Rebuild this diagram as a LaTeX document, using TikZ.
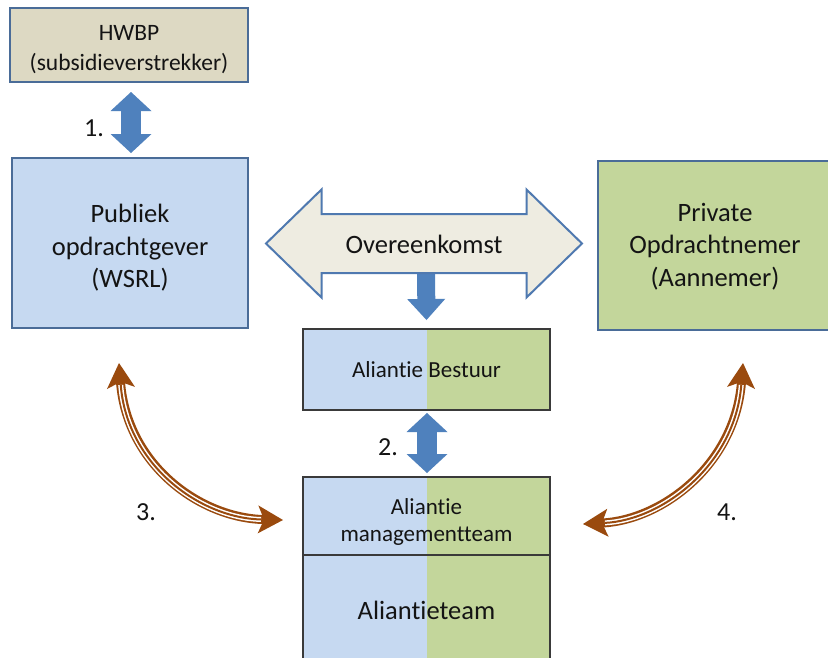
\documentclass[tikz,border=0pt]{standalone}
\usepackage{fontspec}
\setmainfont{Carlito}[Ligatures={NoCommon,NoContextual}]
\usetikzlibrary{arrows.meta}
\definecolor{boxblue}{HTML}{C6D9F1}
\definecolor{boxgreen}{HTML}{C3D69B}
\definecolor{boxtan}{HTML}{DDD9C3}
\definecolor{agree}{HTML}{EEECE1}
\definecolor{edgeblue}{HTML}{4A6C98}
\definecolor{agreeedge}{HTML}{4F79B0}
\definecolor{arrowblue}{HTML}{4F81BD}
\definecolor{brownarrow}{HTML}{9A4A0E}
\definecolor{txt}{HTML}{141414}
\definecolor{splitedge}{HTML}{3A3A3A}
\tikzset{
  plainbox/.style={draw=edgeblue, line width=2pt, inner sep=0pt, outer sep=0pt},
  boxtext/.style={align=center, text=txt, font=\fontsize{26.5}{32.5}\selectfont, inner sep=0pt},
  splitbox/.style={draw=splitedge, line width=1.5pt, fill=boxblue, minimum width=247pt,
    path picture={\fill[boxgreen] (path picture bounding box.north) rectangle (path picture bounding box.south east);},
    align=center, text=txt, inner sep=0pt, outer sep=0pt},
  numlabel/.style={text=txt, font=\fontsize{26}{30}\selectfont, inner sep=0pt},
  bluearrow/.style={draw=arrowblue, line width=20pt, <->,
    >={Triangle[length=19pt,width=41pt,line width=0pt]}},
  downarrow/.style={draw=arrowblue, line width=18pt,
    -{Triangle[length=21pt,width=38pt,line width=0pt]}},
  agreearrow/.style={draw=agreeedge, fill=agree, line width=2pt, line join=miter},
  brownout/.style={draw=brownarrow, line width=9pt, <->,
    >={Stealth[length=25pt,width=28pt,inset=6pt,line width=0pt]}},
  brownmid/.style={draw=white, line width=5pt, shorten <=22pt, shorten >=22pt},
  browncore/.style={draw=brownarrow, line width=2pt, shorten <=22pt, shorten >=22pt}
}
\begin{document}
\begin{tikzpicture}[x=1pt,y=-1pt]
\clip (0,0) rectangle (828,657);
\fill[white] (0,0) rectangle (828,657);

% boxes
\node[plainbox, fill=boxtan, minimum width=238pt, minimum height=74pt] (hwbp) at (129,45) {};
\node[boxtext, font=\fontsize{23.5}{30}\selectfont] (hwbptext) at ([yshift=-5pt]hwbp.center)
  {HWBP\\(subsidieverstrekker)};
\node[plainbox, fill=boxblue, minimum width=236pt, minimum height=170pt] (pub) at (130,243) {};
\node[boxtext] (pubtext) at ([yshift=-5pt]pub.center) {Publiek\\opdrachtgever\\(WSRL)};
\node[plainbox, fill=boxgreen, minimum width=234pt, minimum height=169pt] (priv) at (715,245.5) {};
\node[boxtext] (privtext) at ([yshift=-1pt]priv.center) {Private\\Opdrachtnemer\\(Aannemer)};

\node[splitbox, minimum height=81pt, font=\fontsize{23}{27}\selectfont] (bestuur) at (426.5,369.5)
  {Aliantie Bestuur};
\node[splitbox, minimum height=78pt] (mgmt) at (426.5,516) {};
\node[boxtext, font=\fontsize{23}{26.5}\selectfont] (mgmttext) at ([yshift=-6pt]mgmt.center)
  {Aliantie\\managementteam};
\node[splitbox, minimum height=110pt, font=\fontsize{26.5}{32}\selectfont] (team) at (426.5,610)
  {Aliantieteam};

% agreement double arrow
\coordinate (ovc) at (424,243.5);
\draw[downarrow] ([xshift=2pt,yshift=-29pt]ovc) -- ([yshift=9pt]bestuur.north);
\draw[agreearrow] (ovc) ++(-158,0) -- ++(55.5,-54) -- ++(0,24.5) -- ++(205,0) -- ++(0,-24.5)
  -- ++(55.5,54) -- ++(-55.5,54) -- ++(0,-24.5) -- ++(-205,0) -- ++(0,24.5) -- cycle;
\node[boxtext] (ov) at ([yshift=-1pt]ovc) {Overeenkomst};

% blue double arrows
\draw[bluearrow] ([xshift=2pt,yshift=-10pt]hwbp.south) -- ([xshift=1pt,yshift=5pt]pub.north);
\draw[bluearrow] ([xshift=0.5pt,yshift=-3pt]bestuur.south) -- ([xshift=0.5pt,yshift=4pt]mgmt.north);

% brown curved arrows
\coordinate (l1) at ([xshift=-11pt,yshift=-35pt]pub.south);
\coordinate (l2) at ([xshift=-20pt,yshift=-4pt]mgmt.west);
\coordinate (r1) at ([xshift=28pt,yshift=-33pt]priv.south);
\coordinate (r2) at ([xshift=33pt,yshift=-8pt]mgmt.east);
\foreach \st in {brownout,brownmid,browncore}{
  \draw[\st] (l1) .. controls (127,465) and (200,518) .. (l2);
  \draw[\st] (r1) .. controls (735,465) and (662,520) .. (r2);
}

% labels
\node[numlabel] (n1) at (94,128) {1.};
\node[numlabel] (n2) at (388,447) {2.};
\node[numlabel] (n3) at (146,512) {3.};
\node[numlabel] (n4) at (727,512) {4.};
\end{tikzpicture}
\end{document}
